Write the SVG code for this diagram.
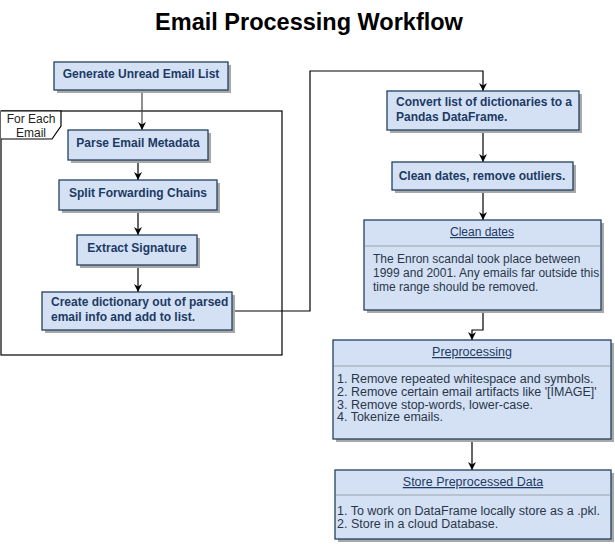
<svg xmlns="http://www.w3.org/2000/svg" width="615" height="544" viewBox="0 0 615 544">
<defs>
<marker id="arr" viewBox="0 0 10 10" refX="10" refY="5" markerWidth="8" markerHeight="8" markerUnits="userSpaceOnUse" orient="auto">
<path d="M0,0 L10,5 L0,10 L3,5 Z" fill="#000"/>
</marker>
<style>
.box{fill:#d4e1f5;stroke:#23405f;stroke-width:1.3}
.sh{fill:#a8a8a8}
.sep{stroke:#9aa3ad;stroke-width:1}
.t{font-family:"Liberation Sans",Arial,sans-serif;font-size:12px;font-weight:bold;fill:#1c3a64}
.h{font-family:"Liberation Sans",Arial,sans-serif;font-size:12px;fill:#1c3a64;text-decoration:underline}
.b{font-family:"Liberation Sans",Arial,sans-serif;font-size:12px;fill:#2a3648}
.bl{font-size:12.5px}
.c{text-anchor:middle}
.ln{fill:none;stroke:#000;stroke-width:1.2}
</style>
</defs>
<rect width="615" height="544" fill="#fff"/>
<text x="309" y="30" text-anchor="middle" font-family="Liberation Sans,Arial,sans-serif" font-size="23.5" font-weight="bold" fill="#000">Email Processing Workflow</text>

<g id="loop-frame">
<rect x="1" y="111" width="281" height="244" fill="none" stroke="#000" stroke-width="1.2"/>
<path d="M1,111 L61,111 L61,126 L52,139 L1,139" fill="#fff" stroke="#000" stroke-width="1.2"/>
<text x="31" y="123" class="b c" style="fill:#222">For Each</text>
<text x="31" y="137" class="b c" style="fill:#222">Email</text>
</g>

<g id="connectors">
<path class="ln" d="M142,90 L142,130" style="stroke:#444" marker-end="url(#arr)"/>
<path class="ln" d="M138,160 L138,180" marker-end="url(#arr)"/>
<path class="ln" d="M138,210 L138,235" marker-end="url(#arr)"/>
<path class="ln" d="M138,265 L138,292" marker-end="url(#arr)"/>
<path class="ln" d="M232,311 L310,311 L310,71 L483,71 L483,91" marker-end="url(#arr)"/>
<path class="ln" d="M483,130 L483,162" marker-end="url(#arr)"/>
<path class="ln" d="M483,190 L483,220" marker-end="url(#arr)"/>
<path class="ln" d="M483,310 L483,330 L472,330 L472,340" marker-end="url(#arr)"/>
<path class="ln" d="M472,439 L472,470" marker-end="url(#arr)"/>
</g>

<g id="generate">
<rect class="sh" x="57" y="65" width="174" height="28"/>
<rect class="box" x="54" y="62" width="174" height="28"/>
<text class="t c" x="141" y="77.5">Generate Unread Email List</text>
</g>
<g id="parse">
<rect class="sh" x="71" y="133" width="140" height="30"/>
<rect class="box" x="68" y="130" width="140" height="30"/>
<text class="t c" x="138" y="146.5">Parse Email Metadata</text>
</g>
<g id="split">
<rect class="sh" x="62" y="183" width="158" height="30"/>
<rect class="box" x="59" y="180" width="158" height="30"/>
<text class="t c" x="138" y="196.5">Split Forwarding Chains</text>
</g>
<g id="extract">
<rect class="sh" x="80" y="238" width="120" height="30"/>
<rect class="box" x="77" y="235" width="120" height="30"/>
<text class="t c" x="137" y="251.5">Extract Signature</text>
</g>
<g id="create-dict">
<rect class="sh" x="45" y="295" width="190" height="38"/>
<rect class="box" x="42" y="292" width="190" height="38"/>
<text class="t" x="51" y="306">Create dictionary out of parsed</text>
<text class="t" x="51" y="321">email info and add to list.</text>
</g>
<g id="convert">
<rect class="sh" x="390" y="94" width="192" height="39"/>
<rect class="box" x="387" y="91" width="192" height="39"/>
<text class="t" x="396" y="106">Convert list of dictionaries to a</text>
<text class="t" x="396" y="121">Pandas DataFrame.</text>
</g>
<g id="clean-outliers">
<rect class="sh" x="395" y="165" width="181" height="28"/>
<rect class="box" x="392" y="162" width="181" height="28"/>
<text class="t c" x="482" y="179.5">Clean dates, remove outliers.</text>
</g>
<g id="clean-dates">
<rect class="sh" x="367" y="223" width="237" height="90"/>
<rect class="box" x="364" y="220" width="237" height="90"/>
<line class="sep" x1="365" y1="246" x2="600" y2="246"/>
<text class="h c" x="482" y="236">Clean dates</text>
<text class="b" x="373" y="263">The Enron scandal took place between</text>
<text class="b" x="373" y="277">1999 and 2001. Any emails far outside this</text>
<text class="b" x="373" y="291">time range should be removed.</text>
</g>
<g id="preprocessing">
<rect class="sh" x="336" y="343" width="278" height="99"/>
<rect class="box" x="333" y="340" width="278" height="99"/>
<line class="sep" x1="334" y1="366" x2="610" y2="366"/>
<text class="h c bl" x="472" y="356">Preprocessing</text>
<text class="b bl" x="337" y="383">1. Remove repeated whitespace and symbols.</text>
<text class="b bl" x="337" y="396">2. Remove certain email artifacts like '[IMAGE]'</text>
<text class="b bl" x="337" y="408.5">3. Remove stop-words, lower-case.</text>
<text class="b bl" x="337" y="421">4. Tokenize emails.</text>
</g>
<g id="store">
<rect class="sh" x="338" y="473" width="276" height="69"/>
<rect class="box" x="335" y="470" width="276" height="69"/>
<line class="sep" x1="336" y1="495" x2="610" y2="495"/>
<text class="h c bl" x="473" y="486">Store Preprocessed Data</text>
<text class="b bl" x="337" y="515">1. To work on DataFrame locally store as a .pkl.</text>
<text class="b bl" x="337" y="528">2. Store in a cloud Database.</text>
</g>
</svg>
